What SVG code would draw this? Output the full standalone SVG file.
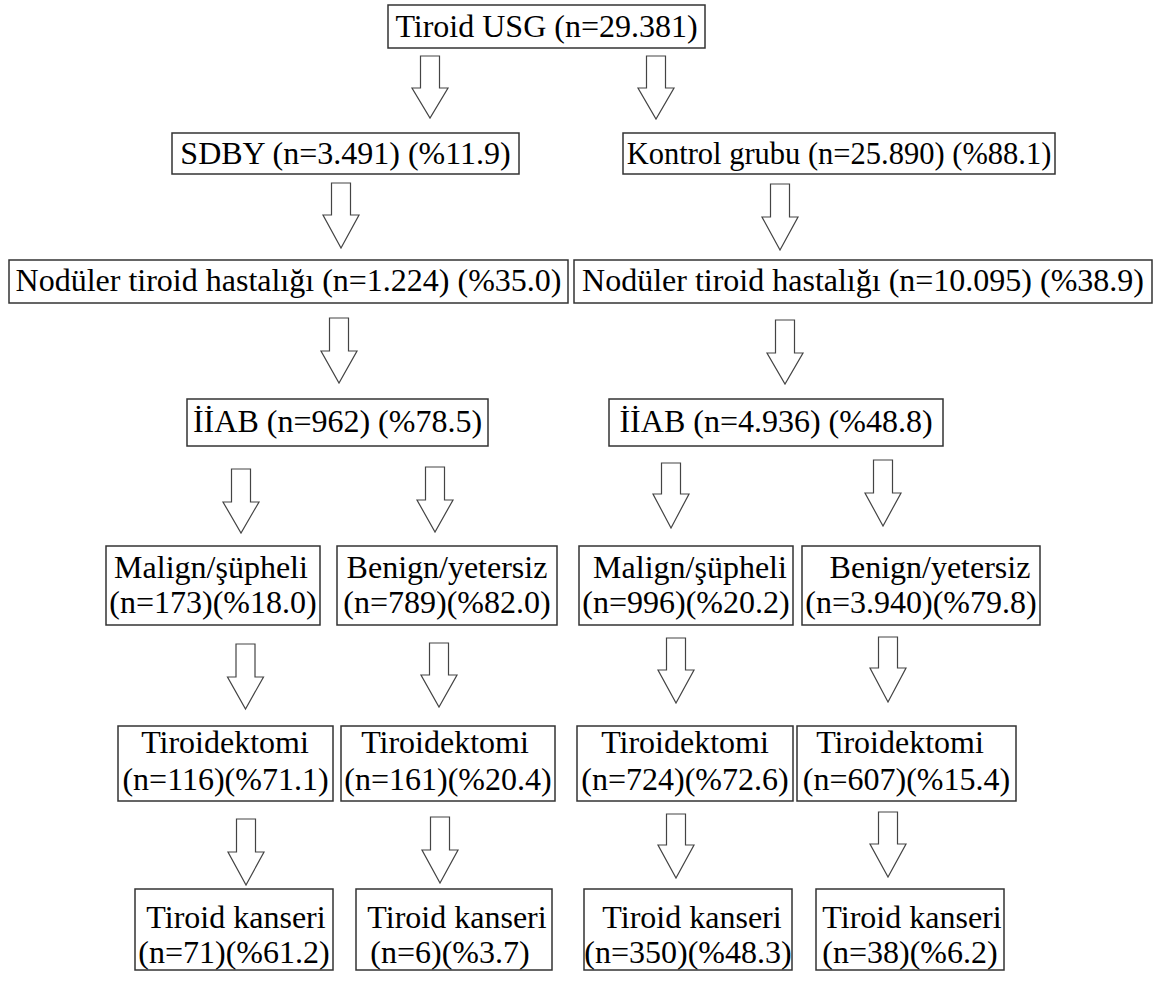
<svg xmlns="http://www.w3.org/2000/svg" width="1158" height="985" viewBox="0 0 1158 985">
<style>
  .box { fill: #ffffff; stroke: #333333; stroke-width: 1.5; }
  .t { font-family: "Liberation Serif", "Times New Roman", serif; font-size: 32px; fill: #000000; text-anchor: middle; }
  .arr { fill: #ffffff; stroke: #444444; stroke-width: 1.2; stroke-linejoin: miter; }
</style>
<defs>
  <path id="arrow" d="M -9.5 0 L 9.5 0 L 9.5 32 L 18 32 L 0 62 L -18 32 L -9.5 32 Z"/>
</defs>
<rect width="1158" height="985" fill="#ffffff"/>

<g id="connectors">
  <path class="arr" d="M 420.5 56 L 439.5 56 L 439.5 88 L 448 88 L 430 118 L 412 88 L 420.5 88 Z"/>
  <path class="arr" d="M 646.5 56 L 665.5 56 L 665.5 88 L 674 88 L 656 119 L 638 88 L 646.5 88 Z"/>
  <path class="arr" d="M 331.5 183 L 350.5 183 L 350.5 215 L 359 215 L 341 248 L 323 215 L 331.5 215 Z"/>
  <path class="arr" d="M 770.5 184 L 789.5 184 L 789.5 217 L 798 217 L 780 250 L 762 217 L 770.5 217 Z"/>
  <path class="arr" d="M 329.5 318 L 348.5 318 L 348.5 351 L 357 351 L 339 383 L 321 351 L 329.5 351 Z"/>
  <path class="arr" d="M 775.5 320 L 794.5 320 L 794.5 353 L 803 353 L 785 384 L 767 353 L 775.5 353 Z"/>
  <path class="arr" d="M 231.5 469 L 250.5 469 L 250.5 502 L 259 502 L 241 533 L 223 502 L 231.5 502 Z"/>
  <path class="arr" d="M 425.5 467 L 444.5 467 L 444.5 500 L 453 500 L 435 532 L 417 500 L 425.5 500 Z"/>
  <path class="arr" d="M 661.5 463 L 680.5 463 L 680.5 494 L 689 494 L 671 528 L 653 494 L 661.5 494 Z"/>
  <path class="arr" d="M 873.5 460 L 892.5 460 L 892.5 493 L 901 493 L 883 526 L 865 493 L 873.5 493 Z"/>
  <path class="arr" d="M 236 644 L 255 644 L 255 677 L 263.5 677 L 245.5 709 L 227.5 677 L 236 677 Z"/>
  <path class="arr" d="M 429.5 643 L 448.5 643 L 448.5 675 L 457 675 L 439 707 L 421 675 L 429.5 675 Z"/>
  <path class="arr" d="M 666.5 638 L 685.5 638 L 685.5 670 L 694 670 L 676 703 L 658 670 L 666.5 670 Z"/>
  <path class="arr" d="M 878.5 637 L 897.5 637 L 897.5 668 L 906 668 L 888 702 L 870 668 L 878.5 668 Z"/>
  <path class="arr" d="M 236.5 819 L 255.5 819 L 255.5 852 L 264 852 L 246 885 L 228 852 L 236.5 852 Z"/>
  <path class="arr" d="M 430.5 817 L 449.5 817 L 449.5 850 L 458 850 L 440 883 L 422 850 L 430.5 850 Z"/>
  <path class="arr" d="M 666.5 814 L 685.5 814 L 685.5 845 L 694 845 L 676 878 L 658 845 L 666.5 845 Z"/>
  <path class="arr" d="M 878.5 812 L 897.5 812 L 897.5 844 L 906 844 L 888 877 L 870 844 L 878.5 844 Z"/>
</g>

<g id="n-usg">
  <rect class="box" x="388" y="5" width="317" height="43"/>
  <text class="t" x="546.5" y="37">Tiroid USG (n=29.381)</text>
</g>
<g id="n-sdby">
  <rect class="box" x="172" y="133" width="347" height="41"/>
  <text class="t" x="345.5" y="164">SDBY (n=3.491) (%11.9)</text>
</g>
<g id="n-kontrol">
  <rect class="box" x="623" y="133" width="432" height="41"/>
  <text class="t" x="839" y="164" style="font-size:30.5px">Kontrol grubu (n=25.890) (%88.1)</text>
</g>
<g id="n-nod-l">
  <rect class="box" x="9" y="260" width="559" height="43"/>
  <text class="t" x="288.5" y="291">Nodüler tiroid hastalığı (n=1.224) (%35.0)</text>
</g>
<g id="n-nod-r">
  <rect class="box" x="574" y="260" width="578" height="43"/>
  <text class="t" x="863" y="291">Nodüler tiroid hastalığı (n=10.095) (%38.9)</text>
</g>
<g id="n-iiab-l">
  <rect class="box" x="187" y="399" width="301" height="47"/>
  <text class="t" x="337.5" y="432">İİAB (n=962) (%78.5)</text>
</g>
<g id="n-iiab-r">
  <rect class="box" x="609" y="399" width="334" height="47"/>
  <text class="t" x="776" y="432">İİAB (n=4.936) (%48.8)</text>
</g>

<g id="n-malign-l">
  <rect class="box" x="106" y="546" width="214" height="79"/>
  <text class="t" x="211" y="578">Malign/şüpheli</text>
  <text class="t" x="213" y="613">(n=173)(%18.0)</text>
</g>
<g id="n-benign-l">
  <rect class="box" x="337" y="546" width="220" height="79"/>
  <text class="t" x="447" y="578">Benign/yetersiz</text>
  <text class="t" x="447" y="613">(n=789)(%82.0)</text>
</g>
<g id="n-malign-r">
  <rect class="box" x="579" y="546" width="214" height="79"/>
  <text class="t" x="690" y="578">Malign/şüpheli</text>
  <text class="t" x="686" y="613">(n=996)(%20.2)</text>
</g>
<g id="n-benign-r">
  <rect class="box" x="802" y="546" width="238" height="79"/>
  <text class="t" x="930" y="578">Benign/yetersiz</text>
  <text class="t" x="921" y="613">(n=3.940)(%79.8)</text>
</g>

<g id="n-tx-1">
  <rect class="box" x="118" y="726" width="215" height="75"/>
  <text class="t" x="225" y="753">Tiroidektomi</text>
  <text class="t" x="225.5" y="790">(n=116)(%71.1)</text>
</g>
<g id="n-tx-2">
  <rect class="box" x="341" y="726" width="214" height="75"/>
  <text class="t" x="445" y="753">Tiroidektomi</text>
  <text class="t" x="448" y="790">(n=161)(%20.4)</text>
</g>
<g id="n-tx-3">
  <rect class="box" x="577" y="726" width="216" height="75"/>
  <text class="t" x="685" y="753">Tiroidektomi</text>
  <text class="t" x="685" y="790">(n=724)(%72.6)</text>
</g>
<g id="n-tx-4">
  <rect class="box" x="797" y="726" width="219" height="75"/>
  <text class="t" x="900" y="753">Tiroidektomi</text>
  <text class="t" x="906.5" y="790">(n=607)(%15.4)</text>
</g>

<g id="n-ca-1">
  <rect class="box" x="135" y="889" width="198" height="81"/>
  <text class="t" x="236" y="928">Tiroid kanseri</text>
  <text class="t" x="234" y="963">(n=71)(%61.2)</text>
</g>
<g id="n-ca-2">
  <rect class="box" x="356" y="889" width="196" height="81"/>
  <text class="t" x="457" y="928">Tiroid kanseri</text>
  <text class="t" x="450" y="963">(n=6)(%3.7)</text>
</g>
<g id="n-ca-3">
  <rect class="box" x="584" y="889" width="208" height="81"/>
  <text class="t" x="692" y="928">Tiroid kanseri</text>
  <text class="t" x="688" y="963">(n=350)(%48.3)</text>
</g>
<g id="n-ca-4">
  <rect class="box" x="816" y="889" width="188" height="81"/>
  <text class="t" x="912" y="928">Tiroid kanseri</text>
  <text class="t" x="910" y="963">(n=38)(%6.2)</text>
</g>
</svg>
